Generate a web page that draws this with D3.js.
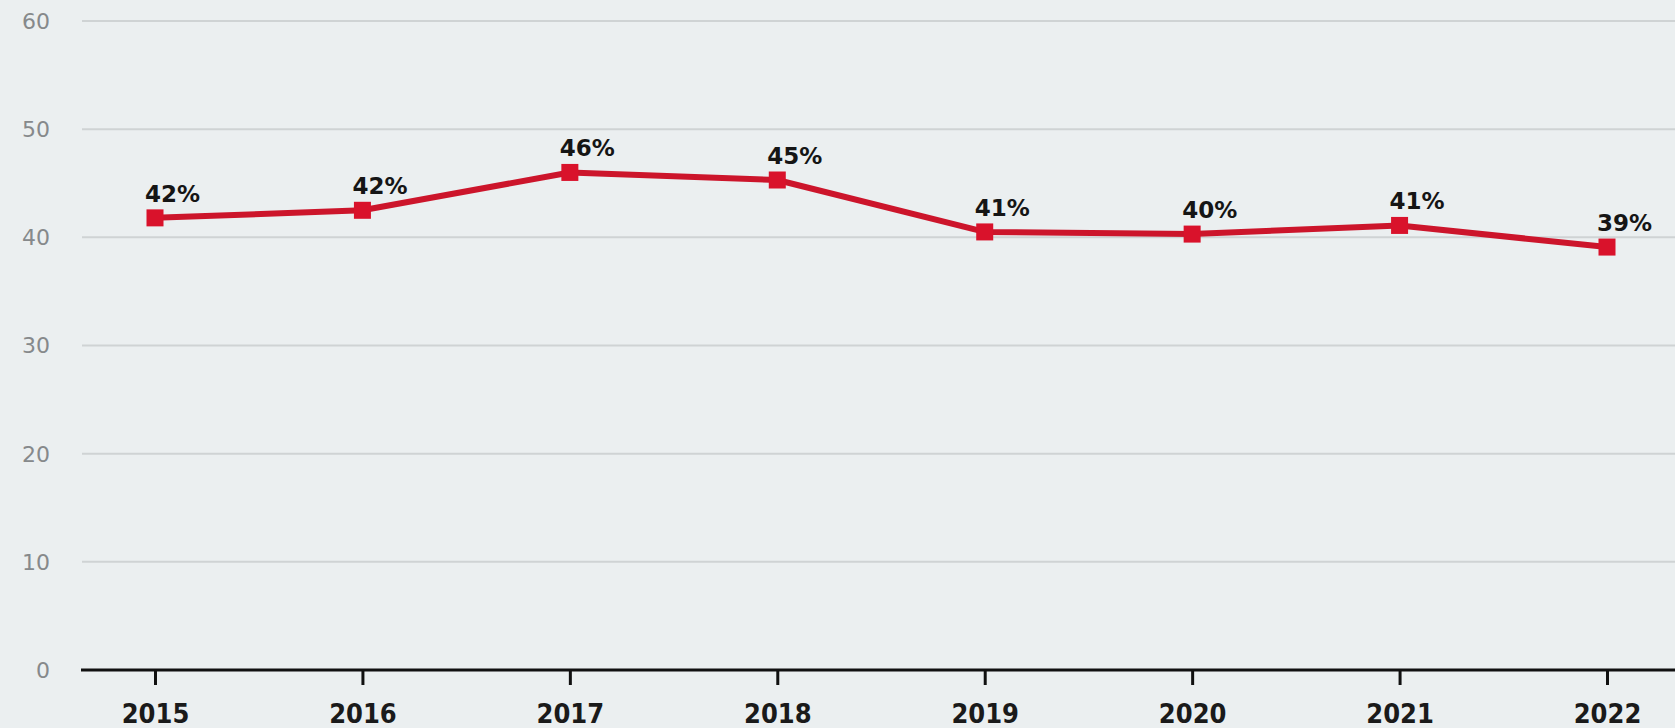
<!DOCTYPE html>
<html>
<head>
<meta charset="utf-8">
<script src="https://cdn.jsdelivr.net/npm/d3@7"></script>
<style>
  html, body { margin: 0; padding: 0; background: #ebeff0; }
  svg { display: block; }
</style>
</head>
<body>
<div id="chart"></div>
<script>
// chart data
const years = [2015, 2016, 2017, 2018, 2019, 2020, 2021, 2022];
const values = [41.8, 42.5, 46.0, 45.3, 40.5, 40.3, 41.1, 39.1];
const valueLabels = ["42%", "42%", "46%", "45%", "41%", "40%", "41%", "39%"];
const yTicks = [0, 10, 20, 30, 40, 50, 60];

const width = 1675, height = 728;

const svg = d3.select("div#chart").append("svg")
    .attr("width", width)
    .attr("height", height);

svg.append("rect")
    .attr("width", width)
    .attr("height", height)
    .attr("fill", "#ebeff0");

// scales
const x = d3.scalePoint()
    .domain(years)
    .range([155, 1607]);

const y = d3.scaleLinear()
    .domain([0, 60])
    .range([670, 21]);

// grid lines
svg.append("g")
    .selectAll("line")
    .data(yTicks.filter(d => d > 0))
    .join("line")
    .attr("x1", 82)
    .attr("x2", width)
    .attr("y1", d => y(d))
    .attr("y2", d => y(d))
    .attr("stroke", "#cfd3d4")
    .attr("stroke-width", 2);

// y labels
svg.append("g")
    .selectAll("text")
    .data(yTicks)
    .join("text")
    .attr("x", 50)
    .attr("y", d => y(d))
    .attr("dy", "0.36em")
    .attr("text-anchor", "end")
    .attr("fill", "#86898b")
    .style("font-family", "'DejaVu Sans', sans-serif")
    .style("font-size", "22px")
    .text(d => d);

// x axis
const xAxis = svg.append("g")
    .attr("transform", `translate(0,${y(0)})`)
    .call(d3.axisBottom(x).tickSize(15).tickSizeOuter(0).tickPadding(19));

xAxis.select(".domain").remove();
xAxis.append("line")
    .attr("x1", 81)
    .attr("x2", width)
    .attr("stroke", "#111")
    .attr("stroke-width", 3);
xAxis.selectAll(".tick line")
    .attr("stroke", "#111")
    .attr("stroke-width", 3);
xAxis.selectAll(".tick text")
    .attr("fill", "#1a1a1a")
    .style("font-family", "'Liberation Sans Narrow', 'DejaVu Sans Condensed', sans-serif")
    .style("font-weight", "bold")
    .style("font-size", "27px");

// line
const line = d3.line()
    .x((d, i) => x(years[i]))
    .y(d => y(d));

svg.append("path")
    .datum(values)
    .attr("d", line)
    .attr("fill", "none")
    .attr("stroke", "#cc152b")
    .attr("stroke-width", 6)
    .attr("stroke-linejoin", "round");

// markers
svg.append("g")
    .selectAll("rect")
    .data(values)
    .join("rect")
    .attr("x", (d, i) => x(years[i]) - 8.5)
    .attr("y", d => y(d) - 8.5)
    .attr("width", 17)
    .attr("height", 17)
    .attr("fill", "#d9122b");

// value labels
svg.append("g")
    .selectAll("text")
    .data(values)
    .join("text")
    .attr("x", (d, i) => x(years[i]) - 10)
    .attr("y", d => y(d) - 16)
    .attr("fill", "#151515")
    .style("font-family", "'DejaVu Sans', sans-serif")
    .style("font-weight", "bold")
    .style("font-size", "23px")
    .text((d, i) => valueLabels[i]);
</script>
</body>
</html>
